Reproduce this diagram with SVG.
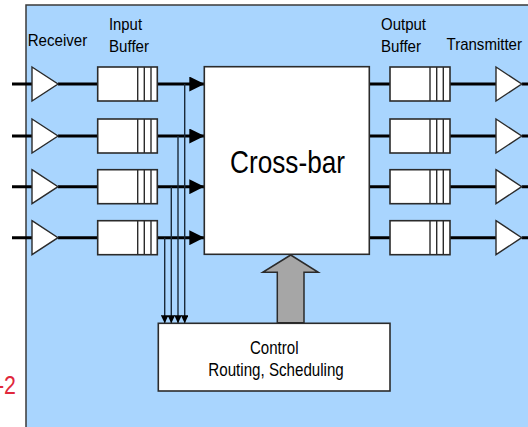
<svg xmlns="http://www.w3.org/2000/svg" width="528" height="427" viewBox="0 0 528 427">
  <defs>
    <style>
      .bg { fill: #A9D5FE; stroke: #3a3a3a; stroke-width: 1.5; }
      .box { fill: #ffffff; stroke: #2b2b2b; stroke-width: 1.6; }
      .slot { stroke: #2b2b2b; stroke-width: 1.4; fill: none; }
      .tri { fill: #ffffff; stroke: #2b2b2b; stroke-width: 1.4; }
      .thick { stroke: #000000; stroke-width: 3; fill: none; }
      .thin { stroke: #1a2a3a; stroke-width: 1.4; fill: none; }
      .lbl { font-family: "Liberation Sans", Arial, sans-serif; font-size: 17px; fill: #000000; }
      .big { font-family: "Liberation Sans", Arial, sans-serif; font-size: 32px; fill: #000000; }
      .ctl { font-family: "Liberation Sans", Arial, sans-serif; font-size: 18.5px; fill: #000000; }
      .red { font-family: "Liberation Sans", Arial, sans-serif; font-size: 26px; fill: #E0283C; }
    </style>
    <marker id="bigHead" viewBox="0 0 15 15" refX="15" refY="7.5" markerWidth="15" markerHeight="15" markerUnits="userSpaceOnUse" orient="auto">
      <path d="M0,0 L15,7.5 L0,15 Z" fill="#000000"/>
    </marker>
    <marker id="smallHead" viewBox="0 0 8 8" refX="8" refY="4" markerWidth="8" markerHeight="7.5" markerUnits="userSpaceOnUse" orient="auto" preserveAspectRatio="none">
      <path d="M0,0 L8,4 L0,8 Z" fill="#000000"/>
    </marker>
  </defs>

  <rect class="bg" x="26" y="5" width="510" height="430"/>

  <text class="red" x="-3" y="394" textLength="19" lengthAdjust="spacingAndGlyphs">-2</text>

  <!-- header labels -->
  <text class="lbl" x="27.7" y="45.7" textLength="59.5" lengthAdjust="spacingAndGlyphs">Receiver</text>
  <text class="lbl" x="109" y="30" textLength="33" lengthAdjust="spacingAndGlyphs">Input</text>
  <text class="lbl" x="109" y="52.3" textLength="40" lengthAdjust="spacingAndGlyphs">Buffer</text>
  <text class="lbl" x="381" y="30" textLength="45" lengthAdjust="spacingAndGlyphs">Output</text>
  <text class="lbl" x="381" y="52.3" textLength="40" lengthAdjust="spacingAndGlyphs">Buffer</text>
  <text class="lbl" x="446.5" y="50" textLength="75.5" lengthAdjust="spacingAndGlyphs">Transmitter</text>

  <!-- connectors -->
  <g id="connectors">
    <!-- inputs to receivers -->
    <path class="thick" d="M12,84 H32 M12,136 H32 M12,186.7 H32 M12,237.7 H32"/>
    <!-- receivers to input buffers -->
    <path class="thick" d="M58,84 H98 M58,136 H98 M58,186.7 H98 M58,237.7 H98"/>
    <!-- input buffers to crossbar -->
    <line class="thick" x1="157" y1="84" x2="204.3" y2="84" marker-end="url(#bigHead)"/>
    <line class="thick" x1="157" y1="136" x2="204.3" y2="136" marker-end="url(#bigHead)"/>
    <line class="thick" x1="157" y1="186.7" x2="204.3" y2="186.7" marker-end="url(#bigHead)"/>
    <line class="thick" x1="157" y1="237.7" x2="204.3" y2="237.7" marker-end="url(#bigHead)"/>
    <!-- taps to control -->
    <line class="thin" x1="184.7" y1="84" x2="184.7" y2="323.3" marker-end="url(#smallHead)"/>
    <line class="thin" x1="178" y1="136" x2="178" y2="323.3" marker-end="url(#smallHead)"/>
    <line class="thin" x1="171.3" y1="186.7" x2="171.3" y2="323.3" marker-end="url(#smallHead)"/>
    <line class="thin" x1="164.7" y1="237.7" x2="164.7" y2="323.3" marker-end="url(#smallHead)"/>
    <!-- crossbar to output buffers -->
    <path class="thick" d="M369,84 H390 M369,136 H390 M369,186.7 H390 M369,237.7 H390"/>
    <!-- output buffers to transmitters -->
    <path class="thick" d="M450,84 H496 M450,136 H496 M450,186.7 H496 M450,237.7 H496"/>
    <!-- transmitter outputs -->
    <path class="thick" d="M521.7,84 H530 M521.7,136 H530 M521.7,186.7 H530 M521.7,237.7 H530"/>
    <!-- control to crossbar big arrow -->
    <path d="M277.3,322.7 V272.3 H262.7 L290.7,255 L318.3,272.3 H304 V322.7 Z" fill="#A6A6A6" stroke="#2b2b2b" stroke-width="1.5" stroke-linejoin="miter"/>
  </g>

  <!-- receivers -->
  <g id="receiver1"><polygon class="tri" points="32,67 58,84 32,101"/></g>
  <g id="receiver2"><polygon class="tri" points="32,119 58,136 32,153"/></g>
  <g id="receiver3"><polygon class="tri" points="32,169.7 58,186.7 32,203.7"/></g>
  <g id="receiver4"><polygon class="tri" points="32,220.7 58,237.7 32,254.7"/></g>

  <!-- input buffers -->
  <g id="inbuf1"><rect class="box" x="97.7" y="67" width="59.6" height="34"/><path class="slot" d="M137.7,67 V101 M144.3,67 V101 M151,67 V101"/></g>
  <g id="inbuf2"><rect class="box" x="97.7" y="119" width="59.6" height="34"/><path class="slot" d="M137.7,119 V153 M144.3,119 V153 M151,119 V153"/></g>
  <g id="inbuf3"><rect class="box" x="97.7" y="169.7" width="59.6" height="34"/><path class="slot" d="M137.7,169.7 V203.7 M144.3,169.7 V203.7 M151,169.7 V203.7"/></g>
  <g id="inbuf4"><rect class="box" x="97.7" y="220.7" width="59.6" height="34"/><path class="slot" d="M137.7,220.7 V254.7 M144.3,220.7 V254.7 M151,220.7 V254.7"/></g>

  <!-- crossbar -->
  <g id="crossbar">
    <rect class="box" x="204.3" y="66.7" width="165" height="187.6" stroke-width="1.4"/>
    <text class="big" x="230" y="172.7" textLength="115" lengthAdjust="spacingAndGlyphs">Cross-bar</text>
  </g>

  <!-- output buffers -->
  <g id="outbuf1"><rect class="box" x="390" y="67" width="60" height="34"/><path class="slot" d="M430,67 V101 M436.7,67 V101 M443.3,67 V101"/></g>
  <g id="outbuf2"><rect class="box" x="390" y="119" width="60" height="34"/><path class="slot" d="M430,119 V153 M436.7,119 V153 M443.3,119 V153"/></g>
  <g id="outbuf3"><rect class="box" x="390" y="169.7" width="60" height="34"/><path class="slot" d="M430,169.7 V203.7 M436.7,169.7 V203.7 M443.3,169.7 V203.7"/></g>
  <g id="outbuf4"><rect class="box" x="390" y="220.7" width="60" height="34"/><path class="slot" d="M430,220.7 V254.7 M436.7,220.7 V254.7 M443.3,220.7 V254.7"/></g>

  <!-- transmitters -->
  <g id="transmitter1"><polygon class="tri" points="496,67 521.7,84 496,101"/></g>
  <g id="transmitter2"><polygon class="tri" points="496,119 521.7,136 496,153"/></g>
  <g id="transmitter3"><polygon class="tri" points="496,169.7 521.7,186.7 496,203.7"/></g>
  <g id="transmitter4"><polygon class="tri" points="496,220.7 521.7,237.7 496,254.7"/></g>

  <!-- control -->
  <g id="control">
    <rect class="box" x="158.3" y="323.3" width="231.7" height="67.7" stroke-width="1.4"/>
    <text class="ctl" x="250" y="354" textLength="48.5" lengthAdjust="spacingAndGlyphs">Control</text>
    <text class="ctl" x="208.3" y="375.5" textLength="135.5" lengthAdjust="spacingAndGlyphs">Routing, Scheduling</text>
  </g>
</svg>
